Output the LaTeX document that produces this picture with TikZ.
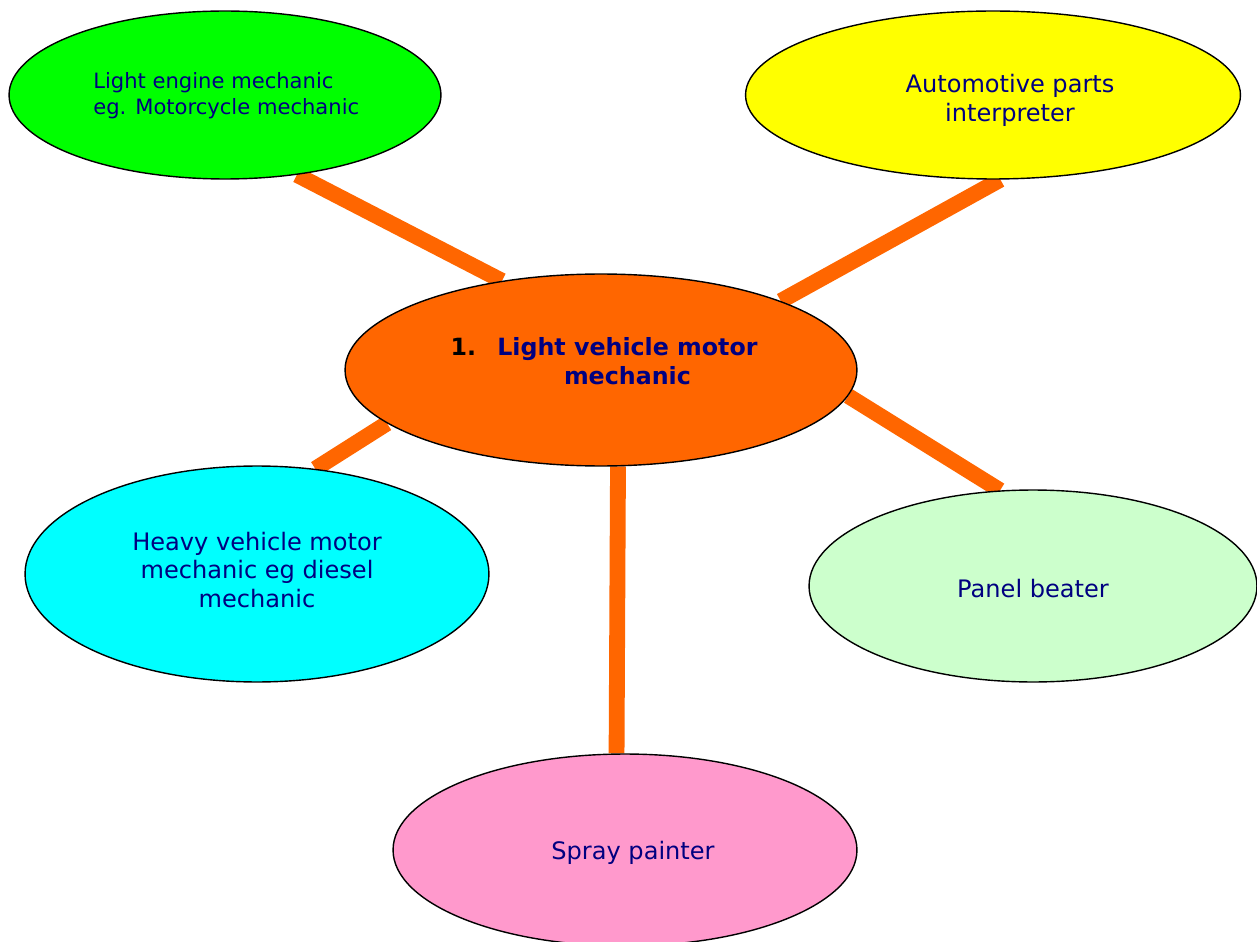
\documentclass[tikz,border=0pt]{standalone}
\usepackage{fontspec}
\setmainfont{DejaVu Sans}
\usetikzlibrary{shapes.geometric,backgrounds}

\definecolor{navytext}{RGB}{0,0,128}
\definecolor{spokeorange}{RGB}{255,102,0}
\definecolor{engineGreen}{RGB}{0,255,0}
\definecolor{partsYellow}{RGB}{255,255,0}
\definecolor{heavyCyan}{RGB}{0,255,255}
\definecolor{panelGreen}{RGB}{204,255,204}
\definecolor{sprayPink}{RGB}{255,153,204}

\begin{document}
\begin{tikzpicture}[x=0.02cm, y=-0.02cm,
  bubble/.style={ellipse, draw=black, line width=0.8pt, inner sep=0pt},
  blurb/.style={inner sep=0pt, text=navytext, align=center, font=\fontsize{13.7}{16.4}\selectfont},
  spoke/.style={draw=spokeorange, line width=9pt}]
\clip (0,0) rectangle (1257,942);
% the job in the middle
\node[bubble, fill=spokeorange, minimum width=10.24cm, minimum height=3.84cm] (motor) at (601,370) {};
\node[blurb, font=\fontsize{13.5}{16.4}\selectfont\bfseries] (motortext) at (604,364)
  {{\color{black}1.}\hspace{0.9em}\begin{tabular}[t]{@{}c@{}}Light vehicle motor\\mechanic\end{tabular}};
% the jobs around it
\node[bubble, fill=engineGreen, minimum width=8.64cm, minimum height=3.36cm] (engine) at (225,95) {};
\node[blurb, anchor=west, align=left, font=\fontsize{12}{14.7}\selectfont] (enginetext) at (93,96)
  {Light engine mechanic\\eg. Motorcycle mechanic};
\node[bubble, fill=partsYellow, minimum width=9.9cm, minimum height=3.36cm] (parts) at (993,95) {};
\node[blurb] (partstext) at (1010,100) {Automotive parts\\interpreter};
\node[bubble, fill=heavyCyan, minimum width=9.28cm, minimum height=4.32cm] (heavy) at (257,574) {};
\node[blurb] (heavytext) at (257,570) {Heavy vehicle motor\\mechanic eg diesel\\mechanic};
\node[bubble, fill=panelGreen, minimum width=8.96cm, minimum height=3.84cm] (panel) at (1033,586) {};
\node[blurb] (paneltext) at (1033,589) {Panel beater};
\node[bubble, fill=sprayPink, minimum width=9.28cm, minimum height=3.84cm] (spray) at (625,850) {};
\node[blurb] (spraytext) at (633,853) {Spray painter};
% spokes go under the bubbles
\begin{pgfonlayer}{background}
\draw[spoke] (engine.-48) -- (motor.138);
\draw[spoke] (parts.-85) -- (motor.21);
\draw[spoke] (heavy.61) -- (motor.194);
\draw[spoke] (panel.109) -- (motor.-6);
\draw[spoke] (motor.-80) -- (spray.95);
\end{pgfonlayer}
\end{tikzpicture}
\end{document}
